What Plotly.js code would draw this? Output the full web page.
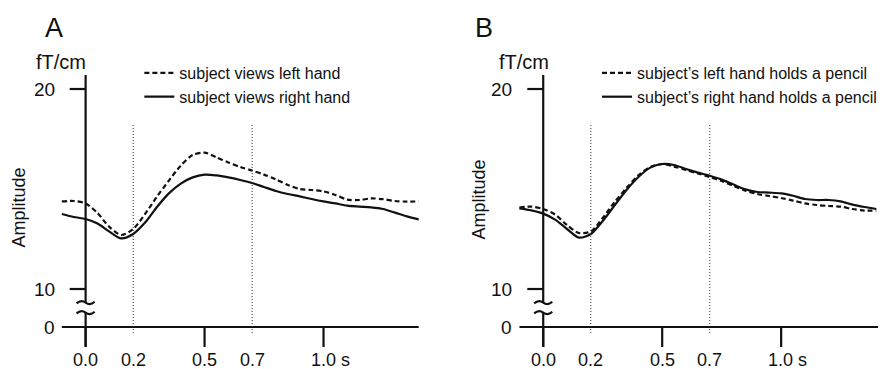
<!DOCTYPE html>
<html>
<head>
<meta charset="utf-8">
<script src="https://cdn.plot.ly/plotly-3.0.1.min.js"></script>
<style>html,body{margin:0;padding:0;background:#fff;}#chart{width:882px;height:369px;}</style>
</head>
<body>
<div id="chart"></div>
<script>
// time axis (s)
const time = [-0.1, -0.05, 0.0, 0.05, 0.1, 0.15, 0.2, 0.25, 0.3, 0.35, 0.4, 0.45, 0.5, 0.55, 0.6, 0.65,
              0.7, 0.75, 0.8, 0.85, 0.9, 0.95, 1.0, 1.05, 1.1, 1.15, 1.2, 1.25, 1.3, 1.35, 1.4];

// Panel A (fT/cm)
const viewsLeft  = [14.38, 14.40, 14.28, 13.80, 13.10, 12.70, 13.00, 13.75, 14.62, 15.42, 16.17, 16.70, 16.82, 16.58, 16.33, 16.10,
                    15.92, 15.72, 15.48, 15.20, 15.00, 14.95, 14.88, 14.70, 14.47, 14.45, 14.53, 14.49, 14.40, 14.37, 14.38];
const viewsRight = [13.75, 13.60, 13.50, 13.27, 12.87, 12.53, 12.75, 13.32, 14.10, 14.78, 15.27, 15.58, 15.72, 15.68, 15.58, 15.45,
                    15.30, 15.10, 14.90, 14.75, 14.63, 14.50, 14.38, 14.28, 14.17, 14.12, 14.08, 14.00, 13.82, 13.63, 13.48];

// Panel B (fT/cm)
const holdsLeft  = [14.07, 14.12, 14.00, 13.72, 13.20, 12.80, 12.88, 13.55, 14.35, 15.05, 15.68, 16.10, 16.25, 16.12, 15.95, 15.78,
                    15.60, 15.40, 15.15, 14.92, 14.75, 14.65, 14.55, 14.42, 14.28, 14.20, 14.15, 14.12, 14.00, 13.92, 13.92];
const holdsRight = [14.03, 13.93, 13.77, 13.47, 13.00, 12.57, 12.75, 13.40, 14.18, 14.95, 15.60, 16.07, 16.25, 16.20, 16.00, 15.82,
                    15.66, 15.47, 15.22, 14.98, 14.85, 14.82, 14.78, 14.66, 14.50, 14.45, 14.45, 14.38, 14.22, 14.10, 14.00];

const seriesNamesA = ['subject views left hand', 'subject views right hand'];
const seriesNamesB = ['subject\u2019s left hand holds a pencil', 'subject\u2019s right hand holds a pencil'];

// tick labels
const xTickVals = [0.0, 0.2, 0.5, 0.7, 1.0];
const xTickText = ['0.0', '0.2', '0.5', '0.7', '1.0 s'];
const xTickMarks = [0.0, 0.5, 1.0];
const markerLines = [0.2, 0.7];
const yTickVals = [20, 10, 8.1];
const yTickText = ['20', '10', '0'];
const yTickMarks = [20, 10];
const axisZero = 8.1;          // where the broken axis shows "0"
const panelLabels = ['A', 'B'];

const FONT = 'Liberation Sans, Arial, Helvetica, sans-serif';
const W = 882, H = 369;
const yRange = [6.0, 24.45];
const pxPerSec = 239, pxPerUnit = 20;

function tr(y, name, dash, xa, ya, leg) {
  return {x: time, y: y, name: name, type: 'scatter', mode: 'lines',
          xaxis: xa, yaxis: ya, legend: leg,
          line: {color: '#111', width: 2.2, dash: dash, shape: 'spline', smoothing: 0.8}};
}
const data = [
  tr(viewsLeft,  seriesNamesA[0], '5px,3px', 'x',  'y',  'legend'),
  tr(viewsRight, seriesNamesA[1], 'solid',   'x',  'y',  'legend'),
  tr(holdsLeft,  seriesNamesB[0], '5px,3px', 'x2', 'y2', 'legend2'),
  tr(holdsRight, seriesNamesB[1], 'solid',   'x2', 'y2', 'legend2')
];

const panels = [
  {xa: 'x', ya: 'y', axisPx: 86, xDom: [0, 440 / W], xEnd: 1.4, label: panelLabels[0], labelPx: 54, ampX: 19.5, ampY: 207, unitPx: 61.7},
  {xa: 'x2', ya: 'y2', axisPx: 545.7, xDom: [440 / W, 1], xEnd: 1.42, label: panelLabels[1], labelPx: 486.7, ampX: 480.7, ampY: 200, unitPx: 526.3}
];

const layout = {
  width: W, height: H,
  margin: {l: 0, r: 0, t: 0, b: 0},
  paper_bgcolor: '#fff', plot_bgcolor: 'rgba(0,0,0,0)',
  font: {family: FONT, color: '#111', size: 16},
  showlegend: true,
  legend: {x: 140 / W, y: 1 - 56 / H, xanchor: 'left', yanchor: 'top', bgcolor: 'rgba(0,0,0,0)',
           font: {size: 16, family: FONT, color: '#111'}, itemwidth: 30, tracegroupgap: 0},
  legend2: {x: 600 / W, y: 1 - 56 / H, xanchor: 'left', yanchor: 'top', bgcolor: 'rgba(0,0,0,0)',
           font: {size: 16, family: FONT, color: '#111'}, itemwidth: 30, tracegroupgap: 0},
  shapes: [], annotations: []
};

panels.forEach((p, i) => {
  const sfx = i === 0 ? '' : '2';
  const x0 = (p.xDom[0] * W - p.axisPx) / pxPerSec;
  const x1 = x0 + (p.xDom[1] - p.xDom[0]) * W / pxPerSec;
  layout['xaxis' + sfx] = {domain: p.xDom, range: [x0, x1], anchor: p.ya, visible: false, fixedrange: true};
  layout['yaxis' + sfx] = {domain: [0, 1], range: yRange, anchor: p.xa, visible: false, fixedrange: true};
  const xr = p.xa, yr = p.ya;
  const S = layout.shapes;
  const ln = () => ({color: '#111', width: 2.2});
  // x axis line
  S.push({type: 'line', xref: xr, yref: yr, x0: -0.1, x1: p.xEnd, y0: axisZero, y1: axisZero, line: ln()});
  // x tick marks (outside, 20 px)
  xTickMarks.forEach(v => S.push({type: 'line', xref: xr, yref: yr, x0: v, x1: v, y0: axisZero, y1: axisZero - 20 / pxPerUnit, line: ln()}));
  // y axis (broken)
  S.push({type: 'line', xref: xr, yref: yr, x0: 0, x1: 0, y0: 20.7, y1: 9.32, line: ln()});
  S.push({type: 'line', xref: xr, yref: yr, x0: 0, x1: 0, y0: 8.82, y1: axisZero - 20 / pxPerUnit, line: ln()});
  [9.32, 8.82].forEach(c => {
    const w = 0.038, a = 0.16;
    S.push({type: 'path', xref: xr, yref: yr, line: ln(),
      path: `M ${-w},${c - 0.04} Q ${-w / 2},${c + a} 0,${c} T ${w},${c + 0.04}`});
  });
  // y tick marks (outside, 16 px)
  yTickMarks.forEach(v => S.push({type: 'line', xref: xr, yref: yr, x0: -16 / pxPerSec, x1: 0, y0: v, y1: v, line: ln()}));
  // dotted reference lines
  markerLines.forEach(m => {
    S.push({type: 'line', xref: xr, yref: yr, x0: m, x1: m, y0: 18.2, y1: 7.8, line: {color: '#333', width: 1, dash: '1px,2px'}});
  });
  const A = layout.annotations;
  xTickVals.forEach((v, k) => {
    const last = k === xTickVals.length - 1;
    A.push({xref: xr, yref: yr, x: v, y: 6.45, text: xTickText[k], showarrow: false,
      xanchor: last ? 'left' : 'center', xshift: last ? -15 : 0, yanchor: 'middle',
      font: {size: 18, family: FONT, color: '#111'}});
  });
  yTickVals.forEach((v, k) => {
    A.push({xref: xr, yref: yr, x: -29 / pxPerSec, y: v, text: yTickText[k], showarrow: false,
      xanchor: 'right', yanchor: 'middle', font: {size: 19, family: FONT, color: '#111'}});
  });
  A.push({xref: 'paper', yref: 'paper', x: p.labelPx / W, y: 1 - 28 / H, text: p.label, showarrow: false,
    xanchor: 'center', yanchor: 'middle', font: {size: 27, family: FONT, color: '#111'}});
  A.push({xref: 'paper', yref: 'paper', x: p.unitPx / W, y: 1 - 62 / H, text: 'fT/cm', showarrow: false,
    xanchor: 'center', yanchor: 'middle', font: {size: 20, family: FONT, color: '#111'}});
  A.push({xref: 'paper', yref: 'paper', x: p.ampX / W, y: 1 - p.ampY / H, text: 'Amplitude', showarrow: false,
    textangle: -90, xanchor: 'center', yanchor: 'middle', font: {size: 18, family: FONT, color: '#111'}});
});

Plotly.newPlot('chart', data, layout, {staticPlot: true, displayModeBar: false});
</script>
</body>
</html>
